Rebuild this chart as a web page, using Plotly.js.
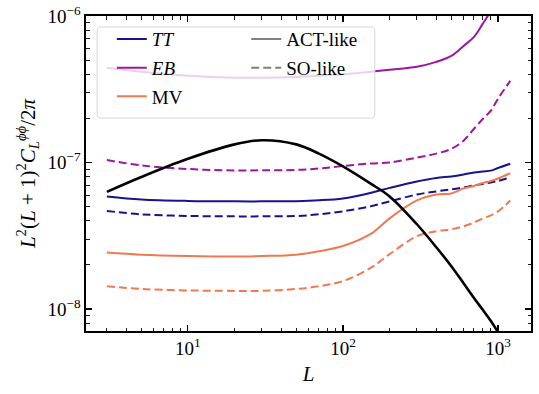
<!DOCTYPE html>
<html>
<head>
<meta charset="utf-8">
<script src="https://cdn.plot.ly/plotly-3.0.1.min.js"></script>
<style>
  html, body { margin: 0; padding: 0; background: #ffffff; }
  #chart { width: 539px; height: 394px; }
  /* force the serif face on every svg text node */
  #chart text { font-family: 'Liberation Serif', 'DejaVu Serif', serif !important; }
</style>
</head>
<body>
<div id="chart"></div>
<script>
// multipole grid
var L = [3, 5, 10, 20, 30, 50, 70, 100, 150, 200, 300, 400, 500, 600, 700, 800, 900, 1000, 1200];

// lensing potential power spectrum (black)
var clPhiPhi = [6.3e-8, 7.96e-8, 1.06e-7, 1.33e-7, 1.42e-7, 1.33e-7, 1.15e-7, 9.4e-8, 7.2e-8, 5.87e-8,
                3.79e-8, 2.64e-8, 1.96e-8, 1.50e-8, 1.19e-8, 9.84e-9, 8.28e-9, 6.98e-9, 5.4e-9];

// reconstruction noise, ACT-like (solid)
var ttAct = [5.87e-8, 5.6e-8, 5.47e-8, 5.43e-8, 5.43e-8, 5.45e-8, 5.52e-8, 5.69e-8, 6.2e-8, 6.71e-8,
             7.43e-8, 7.85e-8, 8.03e-8, 8.28e-8, 8.55e-8, 8.69e-8, 8.8e-8, 9.17e-8, 9.8e-8];
var ebAct = [4.43e-7, 4.16e-7, 3.91e-7, 3.79e-7, 3.79e-7, 3.84e-7, 3.91e-7, 4.0e-7, 4.16e-7, 4.29e-7,
             4.5e-7, 4.86e-7, 5.34e-7, 6.25e-7, 7.2e-7, 8.9e-7, 1.08e-6, 1.3e-6, 1.75e-6];
var mvAct = [2.43e-8, 2.35e-8, 2.3e-8, 2.28e-8, 2.3e-8, 2.35e-8, 2.48e-8, 2.69e-8, 3.24e-8, 4.16e-8,
             5.51e-8, 6.05e-8, 6.15e-8, 6.66e-8, 6.92e-8, 7.25e-8, 7.48e-8, 7.78e-8, 8.45e-8];

// reconstruction noise, SO-like (dashed)
var ttSo = [4.67e-8, 4.43e-8, 4.32e-8, 4.29e-8, 4.29e-8, 4.31e-8, 4.43e-8, 4.64e-8, 5.02e-8, 5.43e-8,
            6.05e-8, 6.35e-8, 6.55e-8, 6.76e-8, 6.98e-8, 7.14e-8, 7.31e-8, 7.48e-8, 7.9e-8];
var ebSo = [1.04e-7, 9.55e-8, 9.03e-8, 8.82e-8, 8.85e-8, 8.9e-8, 9.1e-8, 9.46e-8, 9.85e-8, 1.0e-7,
            1.08e-7, 1.15e-7, 1.24e-7, 1.41e-7, 1.70e-7, 1.99e-7, 2.26e-7, 2.72e-7, 3.61e-7];
var mvSo = [1.43e-8, 1.37e-8, 1.34e-8, 1.33e-8, 1.33e-8, 1.37e-8, 1.43e-8, 1.55e-8, 1.9e-8, 2.37e-8,
            3.14e-8, 3.4e-8, 3.5e-8, 3.67e-8, 3.9e-8, 4.15e-8, 4.36e-8, 4.64e-8, 5.5e-8];

var estNames = ['<i>TT</i>', '<i>EB</i>', 'MV'];
var expNames = ['ACT-like', 'SO-like'];
var xTicks = [10, 100, 1000];
var xTickText = ['10<sup>1</sup>', '10<sup>2</sup>', '10<sup>3</sup>'];
var yTicks = [1e-8, 1e-7, 1e-6];
var yTickText = ['10<sup>\u22128</sup>', '10<sup>\u22127</sup>', '10<sup>\u22126</sup>'];

var colours = ['#14148c', '#9c179e', '#ef7a52'];
var FONT = 'Liberation Serif';

// minor tick positions (2..9 times each decade)
function minorTicks(lo, hi) {
  var out = [];
  for (var p = lo; p <= hi; p++) {
    for (var m = 2; m <= 9; m++) out.push(m * Math.pow(10, p));
  }
  return out;
}

var traces = [];
var actSets = [ttAct, ebAct, mvAct];
var soSets = [ttSo, ebSo, mvSo];

// dashed (SO-like) curves
for (var i = 0; i < 3; i++) {
  traces.push({
    x: L, y: soSets[i], type: 'scatter', mode: 'lines', showlegend: false,
    line: {color: colours[i], width: 2, dash: '8px,4px', shape: 'spline', smoothing: 1}
  });
}
// solid (ACT-like) curves, carry the estimator legend
for (var i = 0; i < 3; i++) {
  traces.push({
    x: L, y: actSets[i], type: 'scatter', mode: 'lines', name: estNames[i],
    legend: 'legend', legendgroup: 'est' + i,
    line: {color: colours[i], width: 2, shape: 'spline', smoothing: 1}
  });
}
// signal
traces.push({
  x: L, y: clPhiPhi, type: 'scatter', mode: 'lines', showlegend: false,
  line: {color: '#000000', width: 2.6, shape: 'spline', smoothing: 1}
});
// experiment style legend entries
var expDash = ['solid', '8px,4px'];
for (var j = 0; j < 2; j++) {
  traces.push({
    x: [null], y: [null], type: 'scatter', mode: 'lines', name: expNames[j],
    legend: 'legend2', legendgroup: 'exp' + j,
    line: {color: '#808080', width: 2, dash: expDash[j]}
  });
}

var labelFont = {family: FONT, size: 19, color: '#000000'};

// legend frame (rounded box) in paper coords
var bx0 = 0.025, bx1 = 0.649, by0 = 0.676, by1 = 0.965, rx = 0.009, ry = 0.0127;
var boxPath = 'M' + (bx0 + rx) + ',' + by1 +
  ' L' + (bx1 - rx) + ',' + by1 + ' Q' + bx1 + ',' + by1 + ' ' + bx1 + ',' + (by1 - ry) +
  ' L' + bx1 + ',' + (by0 + ry) + ' Q' + bx1 + ',' + by0 + ' ' + (bx1 - rx) + ',' + by0 +
  ' L' + (bx0 + rx) + ',' + by0 + ' Q' + bx0 + ',' + by0 + ' ' + bx0 + ',' + (by0 + ry) +
  ' L' + bx0 + ',' + (by1 - ry) + ' Q' + bx0 + ',' + by1 + ' ' + (bx0 + rx) + ',' + by1 + ' Z';

var axisCommon = {
  type: 'log',
  showgrid: false,
  zeroline: false,
  showline: true,
  linecolor: '#000000',
  linewidth: 1.6,
  mirror: 'allticks',
  ticks: 'inside',
  ticklen: 6,
  tickwidth: 1.1,
  tickcolor: '#000000',
  tickmode: 'array',
  tickfont: {family: FONT, size: 19, color: '#000000'}
};

var layout = {
  width: 539,
  height: 394,
  margin: {l: 86, r: 8, t: 16, b: 63},
  paper_bgcolor: '#ffffff',
  plot_bgcolor: '#ffffff',
  font: {family: FONT, size: 19, color: '#000000'},
  xaxis: Object.assign({}, axisCommon, {
    range: [Math.log10(2.2), Math.log10(1633)],
    tickvals: xTicks, ticktext: xTickText,
    minor: {tickmode: 'array', tickvals: minorTicks(0, 3), ticks: 'inside', ticklen: 3.5, tickwidth: 0.9, tickcolor: '#000000', showgrid: false},
    title: {text: '<i>L</i>', font: {family: FONT, size: 21, color: '#000000'}, standoff: 8}
  }),
  yaxis: Object.assign({}, axisCommon, {
    range: [-8.15, -6.0],
    tickvals: yTicks, ticktext: yTickText,
    minor: {tickmode: 'array', tickvals: minorTicks(-9, -7), ticks: 'inside', ticklen: 3.5, tickwidth: 0.9, tickcolor: '#000000', showgrid: false},
    title: {
      text: '<i>L</i><sup>2</sup>(<i>L</i> + 1)<sup>2</sup><i>C</i><sub><i>L</i></sub><sup><i>\u03d5\u03d5</i></sup>/2<i>\u03c0</i>',
      font: {family: FONT, size: 21, color: '#000000'}, standoff: 6
    }
  }),
  legend: {
    x: 0.058, y: 0.987, xanchor: 'left', yanchor: 'top',
    bgcolor: 'rgba(0,0,0,0)', borderwidth: 0,
    traceorder: 'grouped', tracegroupgap: 1,
    font: labelFont
  },
  legend2: {
    x: 0.36, y: 0.987, xanchor: 'left', yanchor: 'top',
    bgcolor: 'rgba(0,0,0,0)', borderwidth: 0,
    traceorder: 'grouped', tracegroupgap: 1,
    font: labelFont
  },
  shapes: [{
    type: 'path', xref: 'paper', yref: 'paper', path: boxPath, layer: 'above',
    fillcolor: 'rgba(255,255,255,0.8)', line: {color: '#d6d6d6', width: 1}
  }]
};

Plotly.newPlot('chart', traces, layout, {staticPlot: true, displayModeBar: false});
</script>
</body>
</html>
